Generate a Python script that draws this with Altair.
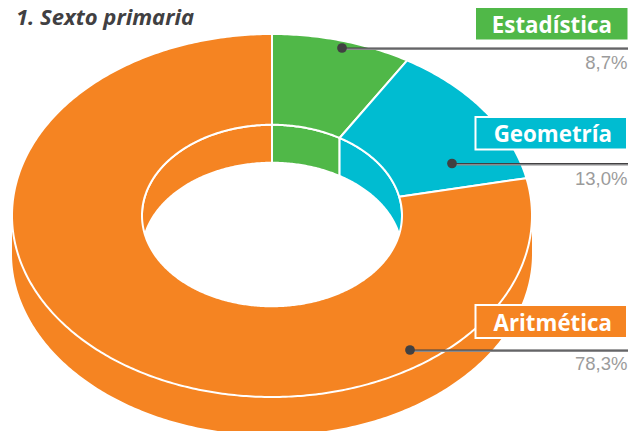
import numpy as np
import pandas as pd
import altair as alt

categories = ["Estadística", "Geometría", "Aritmética"]
shares = [8.7, 13.0, 78.3]
share_labels = ["8,7%", "13,0%", "78,3%"]
colors = ["#50B848", "#00BCD1", "#F58422"]
title_text = "1. Sexto primaria"

CX, CY, RX, RY, HOLE, DEPTH = 272, 215.5, 260, 181.5, 0.5, 38
W, H = 620, 423
FONT = "Open Sans"


def arc(a0, a1, r, dy=0.0):
    t = np.radians(np.linspace(a0, a1, max(int(abs(a1 - a0) * 1.5), 2) + 1))
    return list(zip(CX + RX * r * np.sin(t), CY - RY * r * np.cos(t) + dy))


x_s = alt.Scale(domain=[8, 8 + W], range=[0, W])
y_s = alt.Scale(domain=[8, 8 + H], range=[0, H])


def poly(points, fill, stroke=None, sw=0):
    pts = list(points) + [points[0]]
    df = pd.DataFrame(pts, columns=["x", "y"]).assign(i=range(len(pts)))
    kw = {"fill": fill, "strokeJoin": "round"}
    kw.update({"stroke": stroke, "strokeWidth": sw} if stroke else {"strokeWidth": 0})
    return alt.Chart(df).mark_line(clip=False, **kw).encode(
        x=alt.X("x:Q", scale=x_s, axis=None),
        y=alt.Y("y:Q", scale=y_s, axis=None),
        order="i:Q",
    )


edges = np.cumsum([0] + shares) * 3.6
layers = []

# outer wall (front half)
layers.append(poly(arc(90, 270, 1) + arc(270, 90, 1, DEPTH), colors[2]))

# inner wall (back half of the hole)
wall = [(-90, 0, colors[2]), (0, edges[1], colors[0]), (edges[1], 92, colors[1])]
for a0, a1, c in wall:
    layers.append(poly(arc(a0, a1, HOLE) + arc(a1, a0, HOLE, DEPTH), c, "white", 2))

# top face
for i, c in enumerate(colors):
    a0, a1 = edges[i], edges[i + 1]
    layers.append(poly(arc(a0, a1, 1) + arc(a1, a0, HOLE), c, "white", 2))


def px_text(txt, x, y, size, color, font=FONT, weight="bold", align="right", style="normal"):
    return alt.Chart(pd.DataFrame({"t": [txt]})).mark_text(
        font=font, fontSize=size, fontWeight=weight, fontStyle=style, align=align,
        baseline="alphabetic", color=color, clip=False
    ).encode(x=alt.value(x - 8), y=alt.value(y - 8), text="t:N")


def px_rect(x0, x1, y0, y1, fill, stroke=None):
    kw = {"stroke": stroke, "strokeWidth": 2} if stroke else {}
    return alt.Chart(pd.DataFrame({"a": [0]})).mark_rect(fill=fill, **kw).encode(
        x=alt.value(x0 - 8), x2=alt.value(x1 - 8), y=alt.value(y0 - 8), y2=alt.value(y1 - 8)
    )


def leader(x0, x1, y):
    shadow = alt.Chart(pd.DataFrame({"a": [0]})).mark_rule(color="#8a8a8c", strokeWidth=2).encode(
        x=alt.value(x0 - 8), x2=alt.value(x1 - 8), y=alt.value(y + 1 - 8))
    line = alt.Chart(pd.DataFrame({"a": [0]})).mark_rule(color="#414042", strokeWidth=1).encode(
        x=alt.value(x0 - 8), x2=alt.value(x1 - 8), y=alt.value(y - 8))
    dot = alt.Chart(pd.DataFrame({"a": [0]})).mark_point(
        filled=True, color="#414042", opacity=1, size=95).encode(
        x=alt.value(x0 - 8), y=alt.value(y - 8))
    return [shadow, line, dot]


layers += leader(342, 628, 48)
layers += leader(452, 628, 163.5)
layers += leader(410, 628, 350)

layers.append(px_rect(476, 627.5, 8, 39.5, colors[0]))
layers.append(px_rect(475.5, 627, 117, 149.5, colors[1], "white"))
layers.append(px_rect(475.5, 627, 305, 338, colors[2], "white"))

label_pos = [(612, 33), (612, 142), (612, 331)]
pct_pos = [(627.5, 68.5), (627.5, 185), (627.5, 369.5)]
for name, (x, y) in zip(categories, label_pos):
    layers.append(px_text(name, x, y, 22.3, "white"))
for txt, (x, y) in zip(share_labels, pct_pos):
    layers.append(px_text(txt, x, y, 18.5, "#9b9b9b", font="Liberation Sans", weight="normal"))

layers.append(px_text(title_text, 16, 25, 22, "#414042", align="left", style="italic"))

chart = alt.layer(*layers).properties(
    width=W, height=H, padding=0, autosize=alt.AutoSizeParams(type="none")
).configure_view(stroke=None)
chart.save("out.html", embed_options={"renderer": "svg", "actions": False})
